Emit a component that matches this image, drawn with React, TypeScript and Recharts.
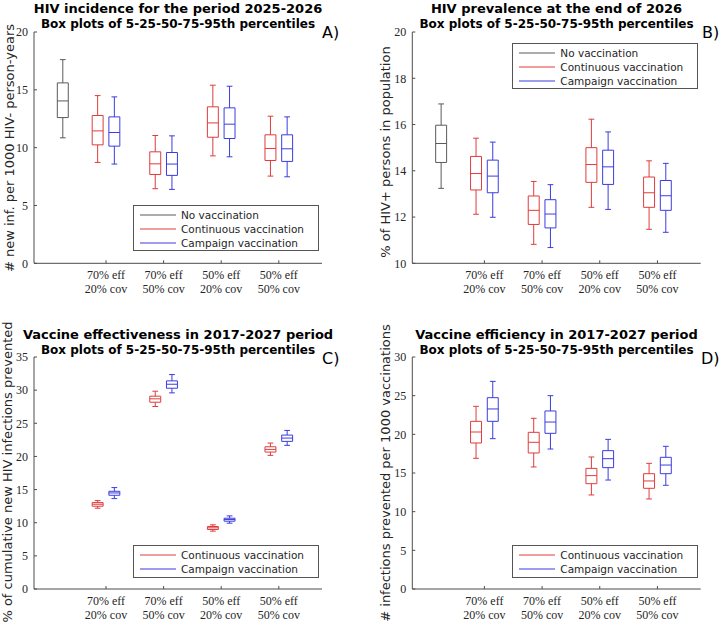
import React from "react";
import { ComposedChart, Line, XAxis, YAxis } from "recharts";

const SANS = "'DejaVu Sans', sans-serif";
const SERIF = "'Liberation Serif', serif";
const AXIS = "#4d4d4d";
const TEXT = "#262626";

const seriesNames = ["No vaccination", "Continuous vaccination", "Campaign vaccination"];
const seriesColors = ["#5a5a5a", "#e03c3c", "#3c3ce0"];

const categoryLabels = [
  ["70% eff", "20% cov"],
  ["70% eff", "50% cov"],
  ["50% eff", "20% cov"],
  ["50% eff", "50% cov"],
];

// percentiles: [p5, p25, p50, p75, p95]
const incidenceNoVac = [[10.85, 12.6, 14.04, 15.6, 17.61]];
const incidenceContinuous = [
  [8.72, 10.24, 11.45, 12.78, 14.5],
  [6.45, 7.68, 8.6, 9.64, 11.05],
  [9.29, 10.9, 12.14, 13.53, 15.4],
  [7.54, 8.89, 9.93, 11.11, 12.72],
];
const incidenceCampaign = [
  [8.58, 10.13, 11.31, 12.66, 14.39],
  [6.39, 7.6, 8.58, 9.58, 11.02],
  [9.21, 10.79, 12.03, 13.44, 15.31],
  [7.48, 8.81, 9.9, 11.11, 12.66],
];

const prevalenceNoVac = [[13.24, 14.36, 15.18, 15.97, 16.89]];
const prevalenceContinuous = [
  [12.12, 13.17, 13.88, 14.62, 15.41],
  [10.82, 11.68, 12.29, 12.91, 13.54],
  [12.42, 13.5, 14.27, 15.0, 16.23],
  [11.47, 12.42, 13.05, 13.73, 14.43],
];
const prevalenceCampaign = [
  [11.99, 13.05, 13.77, 14.46, 15.24],
  [10.68, 11.53, 12.13, 12.75, 13.4],
  [12.33, 13.41, 14.17, 14.89, 15.68],
  [11.34, 12.29, 12.92, 13.58, 14.32],
];

const effectivenessContinuous = [
  [12.19, 12.49, 12.79, 13.04, 13.34],
  [27.53, 28.18, 28.69, 29.09, 29.84],
  [8.73, 8.98, 9.23, 9.43, 9.68],
  [20.16, 20.66, 21.06, 21.46, 22.02],
];
const effectivenessCampaign = [
  [13.64, 14.14, 14.49, 14.74, 15.3],
  [29.59, 30.29, 30.89, 31.4, 32.35],
  [9.93, 10.23, 10.48, 10.68, 11.03],
  [21.67, 22.27, 22.77, 23.22, 23.92],
];

const efficiencyContinuous = [
  [16.9, 18.88, 20.3, 21.68, 23.62],
  [15.78, 17.59, 18.97, 20.26, 22.07],
  [12.16, 13.62, 14.66, 15.6, 17.07],
  [11.64, 13.02, 13.97, 14.91, 16.25],
];
const efficiencyCampaign = [
  [19.44, 21.68, 23.28, 24.74, 26.85],
  [18.1, 20.13, 21.59, 23.02, 25.0],
  [14.09, 15.69, 16.85, 17.89, 19.35],
  [13.41, 14.91, 16.03, 17.03, 18.45],
];

const CATEGORY_TICKS = [1.75, 2.75, 3.75, 4.75];
const BOX_HALF = 0.095;
const CAP_HALF = 0.05;

function boxPoints(x: number, p: number[]) {
  const [p5, p25, p50, p75, p95] = p;
  const gap = { x, y: null };
  return [
    { x: x - BOX_HALF, y: p25 }, { x: x + BOX_HALF, y: p25 }, { x: x + BOX_HALF, y: p75 },
    { x: x - BOX_HALF, y: p75 }, { x: x - BOX_HALF, y: p25 }, gap,
    { x: x - BOX_HALF, y: p50 }, { x: x + BOX_HALF, y: p50 }, gap,
    { x, y: p75 }, { x, y: p95 }, gap,
    { x: x - CAP_HALF, y: p95 }, { x: x + CAP_HALF, y: p95 }, gap,
    { x, y: p25 }, { x, y: p5 }, gap,
    { x: x - CAP_HALF, y: p5 }, { x: x + CAP_HALF, y: p5 }, gap,
  ];
}

// series kind: 0 = no vaccination (at x=1), 1 = continuous, 2 = campaign
function seriesData(kind: number, boxes: number[][]) {
  const out: any[] = [];
  boxes.forEach((b, i) => {
    const x = kind === 0 ? 1 : CATEGORY_TICKS[i] + (kind === 1 ? -0.145 : 0.145);
    out.push(...boxPoints(x, b));
  });
  return out;
}

function CategoryTick(props: any) {
  const { x, y, payload } = props;
  const idx = CATEGORY_TICKS.indexOf(payload.value);
  const lines = categoryLabels[idx] || [];
  return (
    <g>
      {lines.map((l, i) => (
        <text key={i} x={x} y={y + 16 + i * 14} textAnchor="middle" fontFamily={SERIF} fontSize={12} fill={TEXT}>
          {l}
        </text>
      ))}
    </g>
  );
}

type PanelProps = {
  left: number;
  top: number;
  width: number;
  height: number;
  plot: { left: number; top: number; right: number; bottom: number };
  yDomain: [number, number];
  yTicks: number[];
  series: { kind: number; boxes: number[][] }[];
  title: [string, string];
  titleY: [number, number];
  letter: string;
  letterPos: [number, number];
  yLabel: string;
  yLabelPos: [number, number];
  legend: { left: number; top: number; width: number; height: number; kinds: number[] };
};

function Panel(p: PanelProps) {
  const xAxisHeight = 30;
  const yAxisWidth = 20;
  const margin = {
    top: p.plot.top,
    left: p.plot.left - yAxisWidth,
    right: p.width - p.plot.right,
    bottom: p.height - p.plot.bottom - xAxisHeight,
  };
  const cx = (p.plot.left + p.plot.right) / 2;
  return (
    <div style={{ position: "absolute", left: p.left, top: p.top, width: p.width, height: p.height }}>
      <ComposedChart width={p.width} height={p.height} margin={margin}>
        <XAxis
          type="number"
          dataKey="x"
          domain={[0.5, 5.5]}
          ticks={CATEGORY_TICKS}
          interval={0}
          allowDataOverflow
          height={xAxisHeight}
          stroke={AXIS}
          tickSize={-3}
          tickMargin={3}
          tick={<CategoryTick />}
        />
        <YAxis
          type="number"
          domain={p.yDomain}
          ticks={p.yTicks}
          interval={0}
          allowDataOverflow
          width={yAxisWidth}
          stroke={AXIS}
          tickSize={-3}
          tickMargin={9}
          tick={{ fontFamily: SERIF, fontSize: 12, fill: TEXT }}
        />
        {p.series.map((s) => (
          <Line
            key={s.kind}
            data={seriesData(s.kind, s.boxes)}
            dataKey="y"
            type="linear"
            stroke={seriesColors[s.kind]}
            strokeWidth={1}
            dot={false}
            activeDot={false}
            connectNulls={false}
            isAnimationActive={false}
          />
        ))}
      </ComposedChart>
      {p.title.map((t, i) => (
        <div
          key={i}
          style={{
            position: "absolute",
            left: cx,
            top: p.titleY[i],
            transform: "translate(-50%, -50%)",
            whiteSpace: "nowrap",
            fontFamily: SANS,
            fontWeight: "bold",
            fontSize: i === 0 ? 13 : 12,
            lineHeight: 1,
            color: "#000",
          }}
        >
          {t}
        </div>
      ))}
      <div
        style={{
          position: "absolute",
          left: p.letterPos[0],
          top: p.letterPos[1],
          transform: "translateY(-50%)",
          fontFamily: SANS,
          fontSize: 16,
          lineHeight: 1,
          color: "#000",
          whiteSpace: "nowrap",
        }}
      >
        {p.letter}
      </div>
      <div
        style={{
          position: "absolute",
          left: p.yLabelPos[0],
          top: p.yLabelPos[1],
          transform: "translate(-50%, -50%) rotate(-90deg)",
          fontFamily: SANS,
          fontSize: 13,
          lineHeight: 1,
          color: TEXT,
          whiteSpace: "nowrap",
        }}
      >
        {p.yLabel}
      </div>
      <div
        style={{
          position: "absolute",
          left: p.legend.left,
          top: p.legend.top,
          width: p.legend.width,
          height: p.legend.height,
          boxSizing: "border-box",
          border: "1px solid #555",
          background: "#fff",
          paddingTop: 2,
        }}
      >
        {p.legend.kinds.map((k) => (
          <div key={k} style={{ display: "flex", alignItems: "center", height: 14, marginLeft: 6 }}>
            <svg width={36} height={4} style={{ marginRight: 5, display: "block" }}>
              <line x1={0} y1={2} x2={36} y2={2} stroke={seriesColors[k]} strokeWidth={1.2} />
            </svg>
            <span style={{ fontFamily: SANS, fontSize: 10.5, color: TEXT, whiteSpace: "nowrap" }}>{seriesNames[k]}</span>
          </div>
        ))}
      </div>
    </div>
  );
}

export default function App() {
  return (
    <div style={{ position: "absolute", left: 0, top: 0, width: 720, height: 627, background: "#fff", overflow: "hidden" }}>
      <Panel
        left={0}
        top={0}
        width={360}
        height={313}
        plot={{ left: 34, top: 32, right: 322, bottom: 263.3 }}
        yDomain={[0, 20]}
        yTicks={[0, 5, 10, 15, 20]}
        series={[
          { kind: 0, boxes: incidenceNoVac },
          { kind: 1, boxes: incidenceContinuous },
          { kind: 2, boxes: incidenceCampaign },
        ]}
        title={["HIV incidence for the period 2025-2026", "Box plots of 5-25-50-75-95th percentiles"]}
        titleY={[7.5, 23.5]}
        letter="A)"
        letterPos={[322, 32.5]}
        yLabel="# new inf. per 1000 HIV- person-years"
        yLabelPos={[8.5, 148]}
        legend={{ left: 133, top: 205, width: 186, height: 46, kinds: [0, 1, 2] }}
      />
      <Panel
        left={360}
        top={0}
        width={360}
        height={313}
        plot={{ left: 52.3, top: 32, right: 340.7, bottom: 263.3 }}
        yDomain={[10, 20]}
        yTicks={[10, 12, 14, 16, 18, 20]}
        series={[
          { kind: 0, boxes: prevalenceNoVac },
          { kind: 1, boxes: prevalenceContinuous },
          { kind: 2, boxes: prevalenceCampaign },
        ]}
        title={["HIV prevalence at the end of 2026", "Box plots of 5-25-50-75-95th percentiles"]}
        titleY={[8, 23.5]}
        letter="B)"
        letterPos={[342, 32.5]}
        yLabel="% of HIV+ persons in population"
        yLabelPos={[25, 152]}
        legend={{ left: 152.3, top: 43.3, width: 185.5, height: 46, kinds: [0, 1, 2] }}
      />
      <Panel
        left={0}
        top={313}
        width={360}
        height={314}
        plot={{ left: 34, top: 44, right: 322, bottom: 276 }}
        yDomain={[0, 35]}
        yTicks={[0, 5, 10, 15, 20, 25, 30, 35]}
        series={[
          { kind: 1, boxes: effectivenessContinuous },
          { kind: 2, boxes: effectivenessCampaign },
        ]}
        title={["Vaccine effectiveness in 2017-2027 period", "Box plots of 5-25-50-75-95th percentiles"]}
        titleY={[21, 37]}
        letter="C)"
        letterPos={[322, 46]}
        yLabel="% of cumulative new HIV infections prevented"
        yLabelPos={[7, 159]}
        legend={{ left: 133, top: 232, width: 186, height: 33, kinds: [1, 2] }}
      />
      <Panel
        left={360}
        top={313}
        width={360}
        height={314}
        plot={{ left: 52.3, top: 44, right: 340.7, bottom: 276 }}
        yDomain={[0, 30]}
        yTicks={[0, 5, 10, 15, 20, 25, 30]}
        series={[
          { kind: 1, boxes: efficiencyContinuous },
          { kind: 2, boxes: efficiencyCampaign },
        ]}
        title={["Vaccine efficiency in 2017-2027 period", "Box plots of 5-25-50-75-95th percentiles"]}
        titleY={[21, 37]}
        letter="D)"
        letterPos={[341, 46]}
        yLabel="# infections prevented per 1000 vaccinations"
        yLabelPos={[25, 160]}
        legend={{ left: 152.3, top: 232, width: 185.5, height: 33, kinds: [1, 2] }}
      />
    </div>
  );
}
